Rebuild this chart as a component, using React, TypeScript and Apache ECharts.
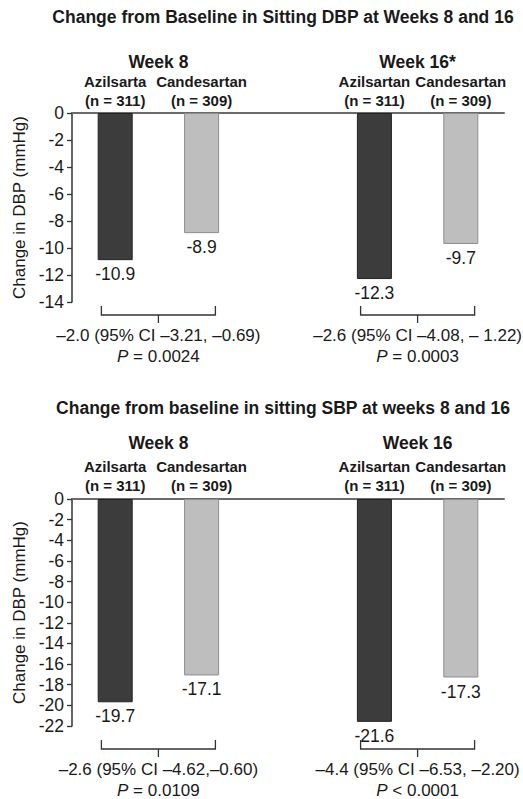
import React, { useEffect, useRef } from 'react';
import * as echarts from 'echarts';

const FONT = '"Liberation Sans", Arial, Helvetica, sans-serif';

const dbpTitle = 'Change from Baseline in Sitting DBP at Weeks 8 and 16';
const sbpTitle = 'Change from baseline in sitting SBP at weeks 8 and 16';
const yAxisTitle = 'Change in DBP (mmHg)';

const barCategories = ['Azilsarta\n(n = 311)', 'Candesartan\n(n = 309)', '', 'Azilsartan\n(n = 311)', 'Candesartan\n(n = 309)'];
const dbpWeekLabels = ['', '', 'Week 8', '', '', '', '', '', 'Week 16*', '', ''];
const sbpWeekLabels = ['', '', 'Week 8', '', '', '', '', '', 'Week 16', '', ''];

const dbpAzilsartan = [-10.9, '-', '-', -12.3, '-'];
const dbpCandesartan = ['-', -8.9, '-', '-', -9.7];
const sbpAzilsartan = [-19.7, '-', '-', -21.6, '-'];
const sbpCandesartan = ['-', -17.1, '-', '-', -17.3];

const comparisonPairs = [[0, 1], [3, 4]];
const dbpDifference = ['\u20132.0 (95% CI \u20133.21, \u20130.69)', '\u20132.6 (95% CI \u20134.08, \u2013 1.22)'];
const dbpPValue = ['= 0.0024', '= 0.0003'];
const sbpDifference = ['\u20132.6 (95% CI \u20134.62,\u20130.60)', '\u20134.4 (95% CI \u20136.53, \u20132.20)'];
const sbpPValue = ['= 0.0109', '< 0.0001'];

const dbpRange = { min: -14, max: 0, interval: 2 };
const sbpRange = { min: -22, max: 0, interval: 2 };

const TEXT = '#1a1a1a';
const DARK = '#3c3c3c';
const LIGHT = '#bebebe';

function bracketSeries(gridIdx: number, yMin: number, drop: number, diffs: string[], ps: string[]) {
  return {
    type: 'custom',
    xAxisIndex: gridIdx * 2,
    yAxisIndex: gridIdx,
    clip: false,
    silent: true,
    data: comparisonPairs.map((p, k) => [p[0], p[1], k]),
    renderItem: (params: any, api: any) => {
      const i0 = api.value(0);
      const i1 = api.value(1);
      const k = api.value(2);
      const a = api.coord([i0, yMin]);
      const b = api.coord([i1, yMin]);
      const mid = (a[0] + b[0]) / 2;
      const half = 57;
      const y = a[1] + drop;
      return {
        type: 'group',
        children: [
          {
            type: 'polyline',
            shape: { points: [[mid - half, y - 9], [mid - half, y], [mid + half, y], [mid + half, y - 9]] },
            style: { stroke: '#333', lineWidth: 1.3, fill: 'none' },
          },
          {
            type: 'line',
            shape: { x1: mid, y1: y, x2: mid, y2: y + 8 },
            style: { stroke: '#333', lineWidth: 1.3 },
          },
          {
            type: 'text',
            x: mid,
            y: y + 20,
            style: {
              text: diffs[k],
              fontSize: 17,
              fontFamily: FONT,
              fill: TEXT,
              align: 'center',
              verticalAlign: 'middle',
              textAlign: 'center',
              textVerticalAlign: 'middle',
            },
          },
          {
            type: 'text',
            x: mid,
            y: y + 41,
            style: {
              text: '{i|P} {n|' + ps[k] + '}',
              fontSize: 17,
              fontFamily: FONT,
              fill: TEXT,
              align: 'center',
              verticalAlign: 'middle',
              textAlign: 'center',
              textVerticalAlign: 'middle',
              rich: {
                i: { fontStyle: 'italic', fontSize: 17, fontFamily: FONT, fill: TEXT },
                n: { fontSize: 17, fontFamily: FONT, fill: TEXT },
              },
            },
          },
        ],
      };
    },
  };
}

function barPair(gridIdx: number, azil: any[], cand: any[]) {
  const common = {
    type: 'bar',
    xAxisIndex: gridIdx * 2,
    yAxisIndex: gridIdx,
    barWidth: 35,
    barGap: '-100%',
  };
  const labels = (data: any[]) => ({
    type: 'scatter',
    xAxisIndex: gridIdx * 2,
    yAxisIndex: gridIdx,
    symbolSize: 0,
    silent: true,
    itemStyle: { opacity: 1 },
    data,
    label: {
      show: true,
      position: 'bottom',
      distance: 5,
      fontSize: 17.5,
      fontFamily: FONT,
      color: TEXT,
      opacity: 1,
      formatter: (p: any) => String(p.value),
    },
  });
  return [
    { ...common, data: azil, itemStyle: { color: DARK, borderColor: '#232323', borderWidth: 1 } },
    { ...common, data: cand, itemStyle: { color: LIGHT, borderColor: '#8e8e8e', borderWidth: 1 } },
    labels(azil),
    labels(cand),
  ];
}

function xAxes(gridIdx: number, weekLabels: string[], catMargin: number, weekMargin: number) {
  return [
    {
      type: 'category',
      gridIndex: gridIdx,
      position: 'top',
      data: barCategories,
      axisLine: { show: true, onZero: false, lineStyle: { color: '#6b6b6b', width: 2 } },
      axisTick: { show: false },
      axisLabel: {
        interval: 0,
        fontWeight: 'bold',
        fontSize: 15,
        lineHeight: 19,
        fontFamily: FONT,
        color: TEXT,
        margin: catMargin,
      },
    },
    {
      type: 'category',
      gridIndex: gridIdx,
      position: 'top',
      boundaryGap: false,
      data: weekLabels,
      axisLine: { show: false },
      axisTick: { show: false },
      axisLabel: {
        interval: 0,
        fontWeight: 'bold',
        fontSize: 17.5,
        lineHeight: 20,
        fontFamily: FONT,
        color: TEXT,
        margin: weekMargin,
      },
    },
  ];
}

function yAxis(gridIdx: number, range: { min: number; max: number; interval: number }) {
  return {
    type: 'value',
    gridIndex: gridIdx,
    min: range.min,
    max: range.max,
    interval: range.interval,
    name: yAxisTitle,
    nameLocation: 'middle',
    nameGap: 44,
    nameTextStyle: { fontSize: 17, fontFamily: FONT, color: TEXT },
    axisLine: { show: true, onZero: false, lineStyle: { color: '#333', width: 1.5 } },
    axisTick: { show: true, length: 5, lineStyle: { color: '#333', width: 1.3 } },
    axisLabel: { fontSize: 17.5, fontFamily: FONT, color: TEXT, margin: 8 },
    splitLine: { show: false },
  };
}

function titleText(text: string, y: number) {
  return {
    type: 'text',
    x: 283,
    y,
    style: {
      text,
      fontSize: 17.5,
      fontWeight: 'bold',
      fontFamily: FONT,
      fill: TEXT,
      align: 'center',
      verticalAlign: 'middle',
      textAlign: 'center',
      textVerticalAlign: 'middle',
    },
  };
}

export default function App() {
  const ref = useRef<HTMLDivElement>(null);
  useEffect(() => {
    if (!ref.current) return;
    const chart = echarts.init(ref.current, undefined, { renderer: 'svg' });
    chart.setOption({
      animation: false,
      backgroundColor: '#ffffff',
      textStyle: { fontFamily: FONT },
      grid: [
        { left: 72, top: 113, width: 432, height: 189 },
        { left: 72, top: 499, width: 432, height: 227 },
      ],
      xAxis: [...xAxes(0, dbpWeekLabels, 3, 41), ...xAxes(1, sbpWeekLabels, 4.5, 46)],
      yAxis: [yAxis(0, dbpRange), yAxis(1, sbpRange)],
      graphic: [titleText(dbpTitle, 17), titleText(sbpTitle, 408)],
      series: [
        ...barPair(0, dbpAzilsartan, dbpCandesartan),
        ...barPair(1, sbpAzilsartan, sbpCandesartan),
        bracketSeries(0, dbpRange.min, 13, dbpDifference, dbpPValue),
        bracketSeries(1, sbpRange.min, 23, sbpDifference, sbpPValue),
      ],
    });
    return () => chart.dispose();
  }, []);
  return (
    <div
      ref={ref}
      style={{ position: 'absolute', left: 0, top: 0, width: 523, height: 799, background: '#fff' }}
    />
  );
}
